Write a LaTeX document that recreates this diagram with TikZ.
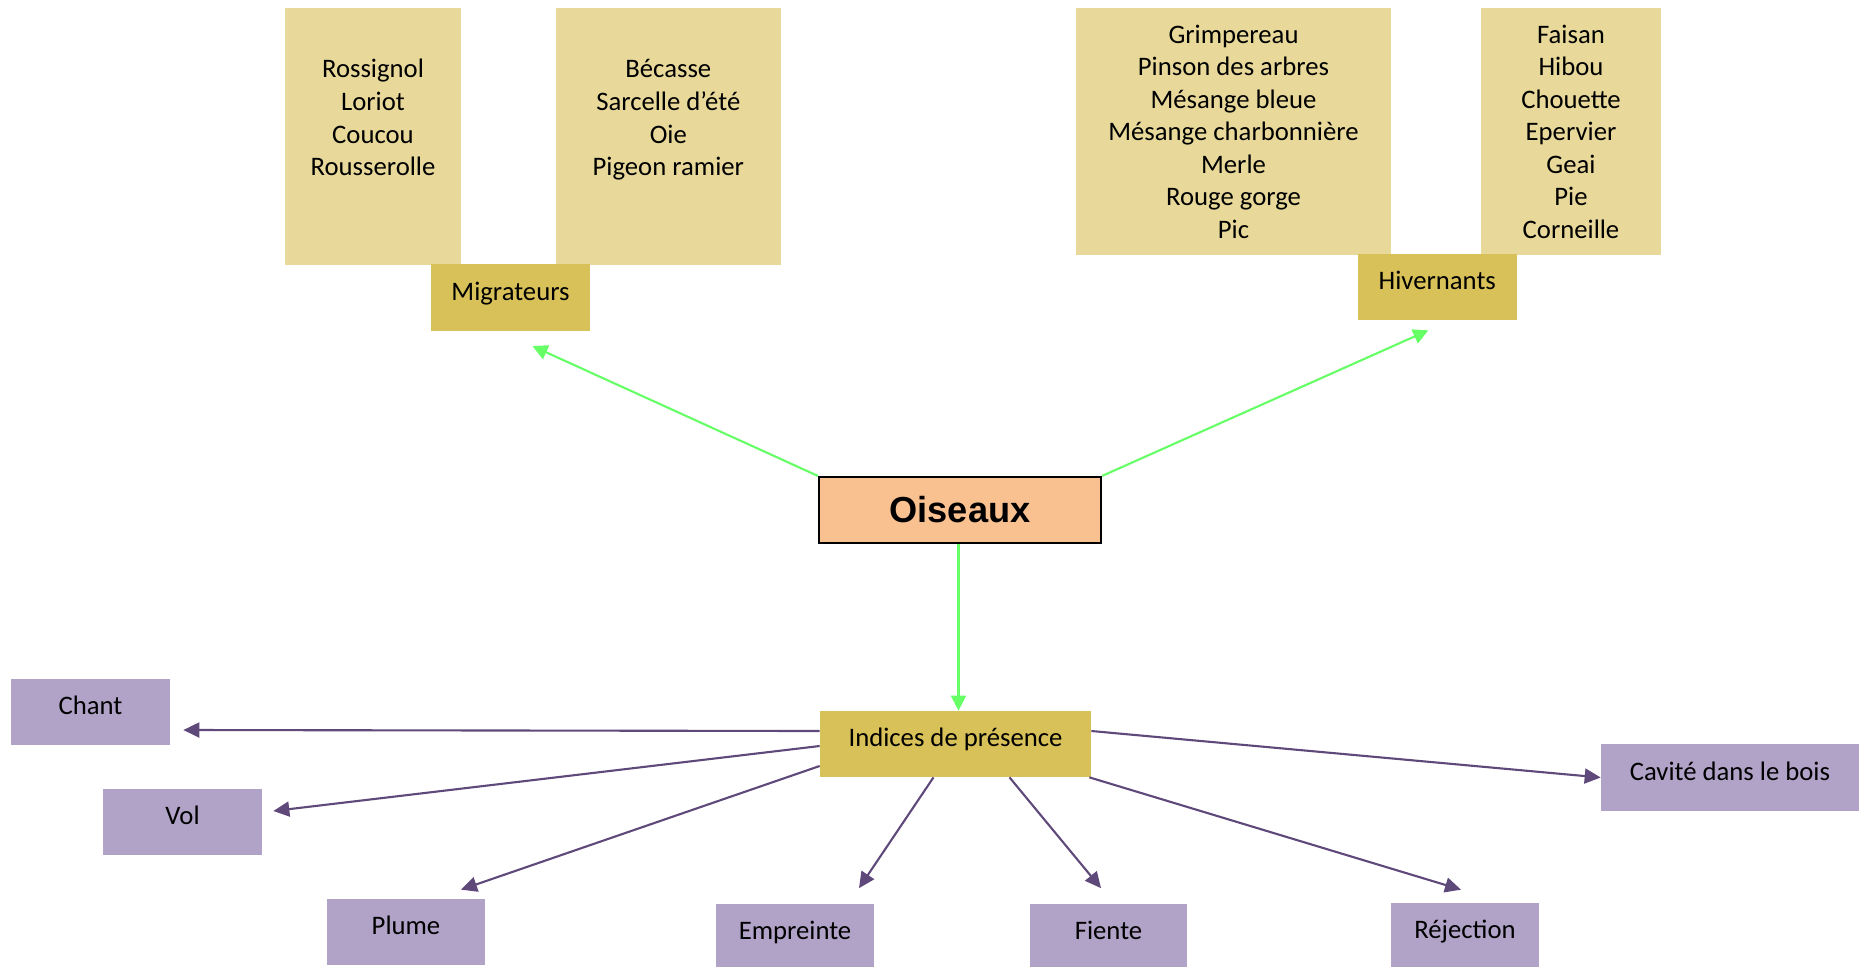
\documentclass[tikz,border=0pt]{standalone}
\usepackage{fontspec}
\setmainfont{Carlito}
\newfontfamily\headfont{Liberation Sans}
\usetikzlibrary{arrows.meta,positioning,calc}
\definecolor{listfill}{RGB}{232,217,155}
\definecolor{familyfill}{RGB}{216,193,88}
\definecolor{rootfill}{RGB}{249,192,144}
\definecolor{cluefill}{RGB}{177,162,199}
\definecolor{cluedraw}{RGB}{95,73,122}
\definecolor{linkgreen}{RGB}{102,255,102}

\begin{document}
\begin{tikzpicture}[
    x=0.02cm, y=-0.02cm,
    font=\fontsize{15.2}{18.5}\selectfont,
    birds/.style={rectangle, fill=listfill, inner sep=0pt, align=center, minimum height=#1},
    family/.style={rectangle, fill=familyfill, inner sep=0pt, minimum height=1.33cm, text height=0.34cm, text depth=0.24cm},
    clue/.style={rectangle, fill=cluefill, inner sep=0pt, minimum height=1.32cm, text height=0.34cm, text depth=0.24cm},
    root/.style={rectangle, draw=black, line width=1.2pt, fill=rootfill, minimum width=5.64cm, minimum height=1.32cm, font=\headfont\bfseries\fontsize{20.6}{24}\selectfont},
    greenlink/.style={draw=linkgreen, line width=1.2pt, -{Triangle[length=0.3cm,width=0.3cm]}},
    cluelink/.style={draw=cluedraw, line width=1.2pt, -{Triangle[length=0.32cm,width=0.3cm]}}
]
    \useasboundingbox (0,0) rectangle (1860,967);

    % lists of birds
    \node[birds=5.14cm, minimum width=3.51cm] (rossignol) at (373,136.5) {\strut\\Rossignol\\Loriot\\Coucou\\Rousserolle\\\strut\\\strut};
    \node[birds=5.14cm, minimum width=4.49cm] (becasse) at (668.3,136.5) {\strut\\Bécasse\\Sarcelle d’été\\Oie\\Pigeon ramier\\\strut\\\strut};
    \node[birds=4.94cm, minimum width=6.3cm] (grimpereau) at (1233.5,131.5) {Grimpereau\\Pinson des arbres\\Mésange bleue\\Mésange charbonnière\\Merle\\Rouge gorge\\Pic};
    \node[birds=4.94cm, minimum width=3.6cm] (faisan) at (1571,131.5) {Faisan\\Hibou\\Chouette\\Epervier\\Geai\\Pie\\Corneille};

    \node[family, minimum width=3.18cm] (migr) at (510.5,297.5) {Migrateurs};
    \node[family, minimum width=3.17cm, minimum height=1.32cm] (hiv) at (1437.3,287) {Hivernants};

    \node[root] (oiseaux) at (960,510) {Oiseaux};
    \node[family, minimum width=5.42cm, minimum height=1.32cm] (indices) at (955.5,744) {Indices de présence};

    % clues
    \node[clue, minimum width=3.18cm] (chant) at (90.5,712) {Chant};
    \node[clue, minimum width=3.18cm] (vol) at (182.5,822) {Vol};
    \node[clue, minimum width=3.16cm] (plume) at (406,931.5) {Plume};
    \node[clue, minimum width=3.15cm] (empreinte) at (795,937) {Empreinte};
    \node[clue, minimum width=3.14cm] (fiente) at (1108.5,937) {Fiente};
    \node[clue, minimum width=2.96cm] (rejection) at (1465,936) {Réjection};
    \node[clue, minimum width=5.16cm, minimum height=1.34cm] (cavite) at (1730,777.5) {Cavité dans le bois};

    \coordinate (migrtip) at ([xshift=0.44cm, yshift=-0.3cm]migr.south);
    \coordinate (hivtip) at ([xshift=-0.18cm, yshift=-0.2cm]hiv.south);

    \draw[greenlink] (oiseaux.north west) -- (migrtip);
    \draw[greenlink] (oiseaux.north east) -- (hivtip);
    \draw[greenlink] ([xshift=-0.03cm]oiseaux.south) -- ([xshift=-0.03cm]oiseaux.south |- indices.north);

    \draw[cluelink] ([yshift=0.26cm]indices.west) -- ([xshift=0.26cm, yshift=-0.36cm]chant.east);
    \draw[cluelink] ([yshift=-0.04cm]indices.west) -- ([xshift=0.22cm, yshift=0.22cm]vol.east);
    \draw[cluelink] ([yshift=-0.44cm]indices.west) -- ([xshift=1.1cm, yshift=0.17cm]plume.north);
    \draw[cluelink] ([xshift=-0.44cm]indices.south) -- ([xshift=1.28cm, yshift=0.31cm]empreinte.north);
    \draw[cluelink] ([xshift=1.08cm]indices.south) -- ([xshift=-0.15cm, yshift=0.31cm]fiente.north);
    \draw[cluelink] ([xshift=-0.04cm]indices.south east) -- ([xshift=-0.08cm, yshift=0.26cm]rejection.north);
    \draw[cluelink] ([yshift=0.26cm]indices.east) -- (cavite.west);
\end{tikzpicture}
\end{document}
